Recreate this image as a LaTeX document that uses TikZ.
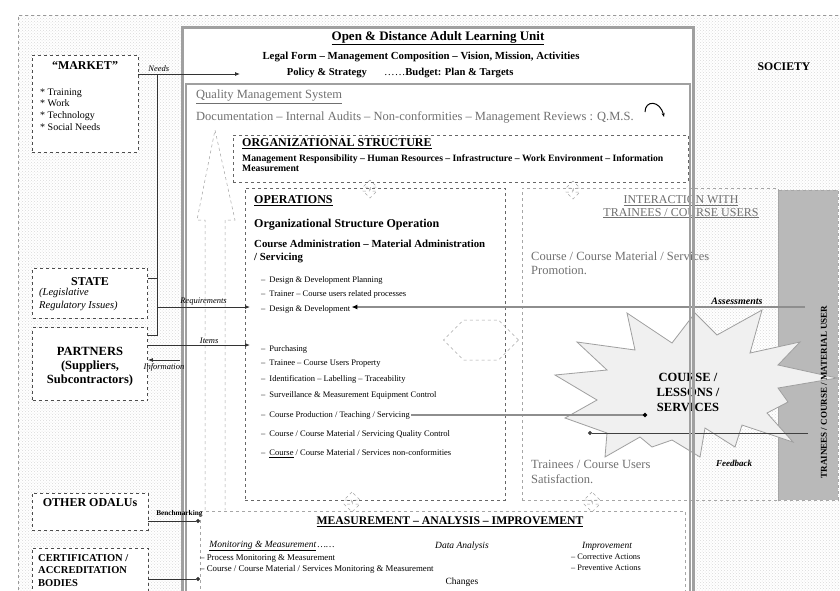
\documentclass[tikz,border=0pt]{standalone}
\usepackage{fontspec}
\setmainfont{Liberation Serif}
\usetikzlibrary{arrows.meta, positioning, shapes.arrows, patterns, calc}
\definecolor{grismarco}{HTML}{A0A0A0}
\definecolor{grisbanda}{HTML}{B9B9B9}
\definecolor{gristexto}{HTML}{707070}
\definecolor{grislinea}{HTML}{8E8E8E}
\colorlet{colMarco}{grismarco}
\colorlet{colBanda}{grisbanda}
\colorlet{colTextoGris}{gristexto}
\colorlet{colLinea}{grislinea}
\tikzset{
  bordeEntorno/.style={draw=gray!80, dashed, line width=0.6pt},
  cajaLateral/.style={draw=black!70, dashed, line width=0.9pt, fill=white, inner sep=0pt},
  cajaUnidad/.style={fill=white, inner sep=0pt},
  marcoUnidad/.style={draw=colMarco, line width=3pt},
  marcoQMS/.style={draw=colMarco, line width=1.6pt},
  cajaSeccion/.style={draw=black!60, dashed, line width=0.7pt, inner sep=0pt},
  cajaInteraccion/.style={draw=gray!70, dashed, line width=0.6pt, inner sep=0pt},
  bandaUsuarios/.style={fill=colBanda, draw=gray!70, dashed, inner sep=0pt},
  flechaSimbolo/.style={draw=gray!70, dashed, line width=0.5pt, inner sep=0pt},
  estrella/.style={draw=gray!75, fill=gray!12, line width=0.8pt, line join=miter},
  textoTitulo/.style={font=\fontsize{13}{15}\selectfont\bfseries, inner sep=1pt},
  textoNegrita/.style={font=\fontsize{10.8}{12.5}\selectfont\bfseries, inner sep=1pt, align=left},
  textoGris/.style={font=\fontsize{12.5}{13.5}\selectfont, text=colTextoGris, inner sep=1pt, align=left},
  textoNormal/.style={font=\fontsize{9}{11.5}\selectfont, inner sep=1pt, align=left},
  textoLista/.style={font=\fontsize{8.5}{10}\selectfont, inner sep=1pt, anchor=west},
  etiquetaFlecha/.style={font=\fontsize{8.5}{10}\selectfont\itshape, text=black, inner sep=1pt},
  linea/.style={line width=0.8pt, black!80},
  flecha/.style={-{Latex[length=5pt, width=4pt]}, line width=0.8pt, black!80},
  flechaPunto/.style={-{Circle[length=4pt]}, line width=0.8pt, black!80},
  flechaGris/.style={-{Latex[length=6pt, width=5pt, color=black]}, line width=2pt, colLinea},
}

\begin{document}
\begin{tikzpicture}[x=1pt, y=-1pt, node distance=4pt]
  \useasboundingbox (0,0) rectangle (840,590);

  % sociedad
  \fill[pattern=crosshatch dots, pattern color=gray!30] (18,15) rectangle (840,590);
  \draw[bordeEntorno] (18,590) -- (18,15) -- (840,15);
  \node[textoNegrita, font=\fontsize{11.7}{13}\selectfont\bfseries] (sociedad) at (784,67) {SOCIETY};

  % banda de usuarios
  \node[bandaUsuarios, minimum width=60, minimum height=310] (usuarios) at (808,345) {};

  % unidad
  \node[cajaUnidad, minimum width=510, minimum height=575] (unidad) at (438,315.5) {};

  % cajas externas
  \node[cajaLateral, minimum width=106, minimum height=97] (mercado) at (85,103.5) {};
  \node[cajaLateral, minimum width=115, minimum height=50] (estado) at (90,293) {};
  \node[cajaLateral, minimum width=115, minimum height=73] (socios) at (90,364) {};
  \node[cajaLateral, minimum width=116, minimum height=37] (otros) at (90,511.5) {};
  \node[cajaLateral, minimum width=116, minimum height=54] (certif) at (90,575) {};

  % secciones
  \node[cajaSeccion, minimum width=455, minimum height=47] (estructura) at (460.5,158.5) {};
  \node[cajaSeccion, minimum width=260, minimum height=312] (operaciones) at (375,344) {};
  \node[cajaInteraccion, minimum width=256, minimum height=312] (interaccion) at (650,344) {};
  \node[cajaInteraccion, minimum width=485, minimum height=89] (medicion) at (442.5,555.5) {};

  % flecha de mejora
  \draw[flechaSimbolo] (205,510) -- (205,220) -- (197,220) -- (215,130)
    -- (235,220) -- (225,220) -- (225,510);
  \node[flechaSimbolo, double arrow, shape border rotate=90, minimum height=18, minimum width=14,
    double arrow head extend=3pt] (flechaA) at (370,189) {};
  \node[flechaSimbolo, double arrow, shape border rotate=90, minimum height=18, minimum width=14,
    double arrow head extend=3pt] (flechaB) at (573,190) {};
  \node[flechaSimbolo, double arrow, minimum height=75, minimum width=40,
    double arrow head extend=0pt] (flechaC) at (481,340) {};
  \node[flechaSimbolo, double arrow, shape border rotate=90, minimum height=20, minimum width=16,
    double arrow head extend=3pt] (flechaD) at (352,502) {};
  \node[flechaSimbolo, double arrow, shape border rotate=90, minimum height=20, minimum width=16,
    double arrow head extend=3pt] (flechaE) at (592,502) {};

  % textos de la unidad
  \node[textoTitulo] (tituloUnidad) at (438,38) {\underline{Open \& Distance Adult Learning Unit}};
  \node[textoNegrita] (formaLegal) at (421,57) {Legal Form -- Management Composition -- Vision, Mission, Activities};
  \node[textoNegrita, font=\fontsize{10.6}{12}\selectfont\bfseries] (politica) at (327,73) {Policy \& Strategy};
  \node[textoNegrita, anchor=west, font=\fontsize{10.6}{12}\selectfont\bfseries] (presupuesto) at (383,73)
    {\textmd{\dots\dots}Budget: Plan \& Targets};
  \node[textoGris, anchor=west] (qmsTit) at (195,97) {\underline{Quality Management System}};
  \node[textoGris, anchor=west] (qmsTxt) at (195,117)
    {Documentation -- Internal Audits -- Non-conformities -- Management Reviews : Q.M.S.};
  \draw[-{Stealth[length=4pt]}, line width=1pt] (645,112) .. controls (645,100) and (660,100) .. (664,117);

  \node[textoNegrita, anchor=west, font=\fontsize{12}{14}\selectfont\bfseries] (estrTit) at (241,144)
    {\underline{ORGANIZATIONAL STRUCTURE}};
  \node[textoNegrita, anchor=north west, font=\fontsize{9.7}{10.5}\selectfont\bfseries] (estrTxt) at (241,153)
    {Management Responsibility -- Human Resources -- Infrastructure -- Work Environment -- Information\\Measurement};

  \node[textoNegrita, anchor=west, font=\fontsize{12}{14}\selectfont\bfseries] (opTit) at (253,201)
    {\underline{OPERATIONS}};
  \node[textoNegrita, anchor=west, font=\fontsize{12}{14}\selectfont\bfseries] (opEstr) at (253,225)
    {Organizational Structure Operation};
  \node[textoNegrita, anchor=north west, font=\fontsize{10.8}{12.5}\selectfont\bfseries] (opAdm) at (253,239)
    {Course Administration -- Material Administration\\/ Servicing};
  \foreach \yy/\txt in {280/{Design \& Development Planning},
                        294/{Trainer -- Course users related processes},
                        309/{Design \& Development},
                        349/{Purchasing},
                        364/{Trainee -- Course Users Property},
                        379/{Identification -- Labelling -- Traceability},
                        395/{Surveillance \& Measurement Equipment Control},
                        415/{Course Production / Teaching / Servicing},
                        434/{Course / Course Material / Servicing Quality Control},
                        454/{\underline{Course} / Course Material / Services non-conformities}}
    \node[textoLista] (item\yy) at (260,\yy) {--\hspace{4pt}\txt};

  \node[textoGris, align=center, font=\fontsize{12}{12.5}\selectfont] (intTit) at (681,207)
    {\underline{INTERACTION WITH}\\\underline{TRAINEES / COURSE USERS}};
  \node[textoGris, anchor=north west] (intPromo) at (530,251)
    {Course / Course Material / Services\\Promotion.};
  \node[textoGris, anchor=north west, font=\fontsize{12.5}{15}\selectfont] (intSatis) at (530,459)
    {Trainees / Course Users\\Satisfaction.};

  % medicion
  \node[textoNegrita, font=\fontsize{11.7}{13}\selectfont\bfseries] (medTit) at (450,522)
    {\underline{MEASUREMENT -- ANALYSIS -- IMPROVEMENT}};
  \node[textoNormal, font=\fontsize{9.5}{11}\selectfont\itshape] (medMon) at (272,546)
    {\underline{Monitoring \& Measurement}\,\dots\dots};
  \node[textoNormal, font=\fontsize{9.5}{11}\selectfont\itshape] (medDatos) at (462,546) {Data Analysis};
  \node[textoNormal, font=\fontsize{9.5}{11}\selectfont\itshape] (medMejora) at (607,546) {Improvement};
  \node[textoNormal, anchor=north west, font=\fontsize{8.8}{11}\selectfont] (medLista) at (199,553)
    {-- Process Monitoring \& Measurement\\-- Course / Course Material / Services Monitoring \& Measurement};
  \node[textoNormal, anchor=north east, font=\fontsize{8.3}{11}\selectfont] (mejLista) at (642,553)
    {-- Corrective Actions\\-- Preventive Actions};
  \node[textoNormal, font=\fontsize{9.5}{11}\selectfont] (cambios) at (462,582) {Changes};

  % cajas externas: textos
  \node[textoNegrita, font=\fontsize{12}{13}\selectfont\bfseries] (mercadoTit) at (85,66) {``MARKET''};
  \node[textoNormal, anchor=west, font=\fontsize{10}{11.7}\selectfont] (mercadoLista) at (39,109.5)
    {* Training\\* Work\\* Technology\\* Social Needs};
  \node[textoNegrita, font=\fontsize{12}{13}\selectfont\bfseries] (estadoTit) at (90,282) {STATE};
  \node[textoNormal, anchor=north west, font=\fontsize{10.5}{13}\selectfont\itshape] (estadoTxt) at (38,287)
    {(Legislative\\Regulatory Issues)};
  \node[textoNegrita, align=center, font=\fontsize{12.5}{14}\selectfont\bfseries] (sociosTit) at (90,367)
    {PARTNERS\\(Suppliers,\\Subcontractors)};
  \node[textoNegrita, font=\fontsize{12}{13}\selectfont\bfseries] (otrosTit) at (90,503) {OTHER ODALUs};
  \node[textoNegrita, anchor=north west, font=\fontsize{10.5}{12.5}\selectfont\bfseries] (certifTit) at (37,553)
    {CERTIFICATION /\\ACCREDITATION\\BODIES};

  % producto
  \draw[estrella] (627,313) -- (672,343) -- (695,313) -- (717,335) -- (762,310) -- (750,353)
    -- (800,342) -- (778,365) -- (837,378) -- (778,388) -- (788,402) -- (767,413) -- (793,442)
    -- (742,425) -- (735,447) -- (705,428) -- (700,457) -- (672,440) -- (652,447) -- (640,437)
    -- (605,457) -- (607,433) -- (565,418) -- (597,400) -- (555,375) -- (607,370) -- (577,342)
    -- (635,350) -- cycle;
  \node[textoNegrita, align=center, font=\fontsize{12.5}{15}\selectfont\bfseries] (curso) at (688,392)
    {COURSE /\\LESSONS /\\SERVICES};
  \node[textoNegrita, rotate=90, font=\fontsize{9}{10}\selectfont\bfseries] (usuariosTxt) at (824,392)
    {TRAINEES / COURSE / MATERIAL USER};

  % lineas de interaccion
  \coordinate (evalIni) at (805,307);
  \coordinate (prodFin) at (647,415);
  \coordinate (retroIni) at (808,433);
  \coordinate (retroFin) at (588,433);
  \draw[flechaGris] (evalIni) -- (item309.east |- evalIni)
    node[pos=0.15, above=0pt, etiquetaFlecha, font=\fontsize{10}{11}\selectfont\bfseries\itshape] {Assessments};
  \draw[-{Circle[length=4pt, color=black]}, line width=1.8pt, colLinea] (item415.east) -- (prodFin);
  \draw[-{Circle[length=4pt]}, line width=0.9pt, black!75] (retroIni) -- (retroFin);
  \node[etiquetaFlecha, font=\fontsize{9}{10}\selectfont\bfseries\itshape] (retroTxt) at (734,463) {Feedback};

  % marco de la unidad
  \draw[marcoUnidad] (unidad.north west) rectangle (unidad.south east);
  \draw[marcoQMS] (186,84) rectangle (690,600);

  % conexiones externas
  \coordinate (entradaUnidad) at (240,74);
  \coordinate (busArriba) at (157,74);
  \coordinate (busEstado) at (157,278);
  \coordinate (busAbajo) at (157,335);
  \coordinate (busReq) at (157,307);
  \coordinate (opsReq) at (250,307);
  \coordinate (opsItems) at (250,345);
  \coordinate (infoIni) at (180,360);
  \coordinate (medOtros) at (200,521);
  \coordinate (medCertif) at (200,579);
  \draw[flecha] (mercado.east |- entradaUnidad) -- (entradaUnidad)
    node[pos=0.2, above=1pt, etiquetaFlecha] {Needs};
  \draw[linea] (busArriba) -- (busAbajo) -- (socios.east |- busAbajo);
  \draw[linea] (estado.east |- busEstado) -- (busEstado);
  \draw[flecha] (busReq) -- (opsReq) node[midway, above=0pt, etiquetaFlecha] {Requirements};
  \draw[flecha] (socios.east |- opsItems) -- (opsItems) node[pos=0.6, above=0pt, etiquetaFlecha] {Items};
  \draw[flecha] (infoIni) -- (socios.east |- infoIni) node[midway, below=2pt, etiquetaFlecha] {Information};
  \draw[flechaPunto] (otros.east |- medOtros) -- (medOtros)
    node[pos=0.6, above=3pt, etiquetaFlecha, font=\fontsize{7.3}{8}\selectfont\bfseries] {Benchmarking};
  \draw[flechaPunto] (certif.east |- medCertif) -- (medCertif);
\end{tikzpicture}
\end{document}
